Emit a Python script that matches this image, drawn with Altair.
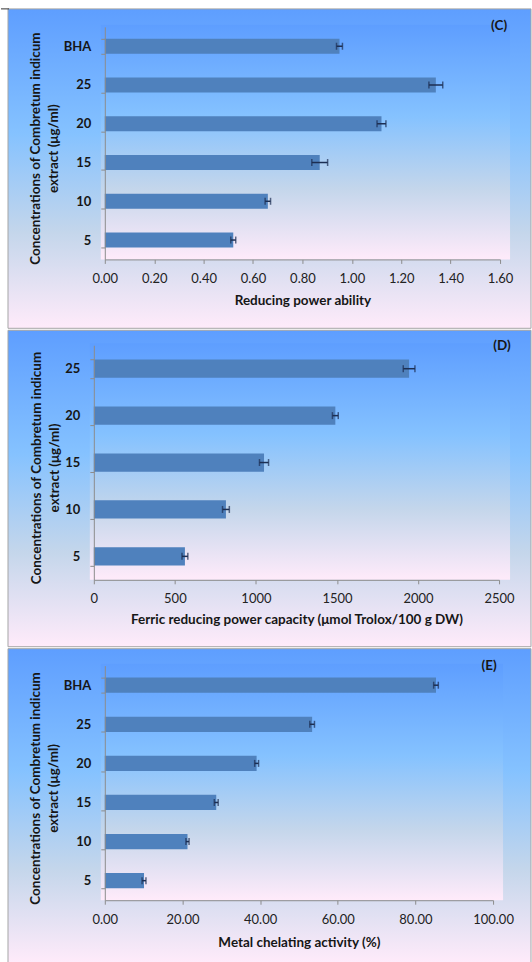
import altair as alt
import pandas as pd

# ---------------- data ----------------
y_title = ["Concentrations of Combretum indicum", "extract (μg/ml)"]

c_categories = ["BHA", "25", "20", "15", "10", "5"]
c_values = [0.95, 1.34, 1.12, 0.87, 0.66, 0.52]
c_errors = [0.012, 0.028, 0.018, 0.032, 0.011, 0.010]
c_ticks = [0.0, 0.2, 0.4, 0.6, 0.8, 1.0, 1.2, 1.4, 1.6]
c_xtitle = "Reducing power ability"

d_categories = ["25", "20", "15", "10", "5"]
d_values = [1945, 1490, 1050, 815, 562]
d_errors = [36, 18, 28, 21, 18]
d_ticks = [0, 500, 1000, 1500, 2000, 2500]
d_xtitle = "Ferric reducing power capacity (μmol Trolox/100 g DW)"

e_categories = ["BHA", "25", "20", "15", "10", "5"]
e_values = [85.3, 53.4, 39.1, 28.7, 21.3, 10.1]
e_errors = [0.6, 0.6, 0.5, 0.5, 0.4, 0.5]
e_ticks = [0, 20, 40, 60, 80, 100]
e_xtitle = "Metal chelating activity (%)"

# ---------------- style ----------------
FONT = "Lato"
TEXT = "#161616"
BAR = "#4f81bd"
ERR = "#1c2e52"
AXIS = "#8c8c8c"


def daybreak():
    return alt.Gradient(
        gradient="linear", x1=0, x2=0, y1=0, y2=1,
        stops=[
            alt.GradientStop(offset=0, color="#5e9eff"),
            alt.GradientStop(offset=0.39, color="#85c2ff"),
            alt.GradientStop(offset=0.70, color="#c4d6eb"),
            alt.GradientStop(offset=1, color="#ffebfa"),
        ],
    )


def panel(cats, vals, errs, ticks, fmt, xtitle, label, height, x_range,
          x_max, axis_off, plot_bg_x, panel_y, label_xy, title_pad, corner=False):
    df = pd.DataFrame({
        "cat": cats,
        "val": vals,
        "lo": [v - e for v, e in zip(vals, errs)],
        "hi": [v + e for v, e in zip(vals, errs)],
    })
    xscale = alt.Scale(domain=[0, x_max], range=x_range, nice=False, zero=True)
    yscale = alt.Scale(paddingInner=0.61, paddingOuter=0.305)
    xaxis = alt.Axis(values=ticks, format=fmt, title=xtitle, grid=False,
                     zindex=1, tickSize=4, labelPadding=9, titlePadding=title_pad,
                     labelFontSize=13, labelColor="#222222", labelFont=FONT,
                     titleFont=FONT, titleFontSize=13.5, titleFontWeight="bold",
                     titleColor=TEXT, domainColor=AXIS, tickColor=AXIS,
                     labelFlush=False)
    yaxis = alt.Axis(title=y_title, grid=False, zindex=1, offset=axis_off,
                     tickBand="extent", tickSize=4, labelPadding=10,
                     labelFontSize=13, labelFontWeight="bold", labelColor=TEXT,
                     labelFont=FONT, titleFont=FONT, titleFontSize=13.5,
                     titleFontWeight="bold", titleColor=TEXT, titlePadding=3,
                     titleLineHeight=18, titleY=height / 2 + 5,
                     domainColor=AXIS, tickColor=AXIS)

    one = alt.Data(values=[{}])
    bg_panel = alt.Chart(one).mark_rect(
        fill=daybreak(), stroke="#a6a6a6", strokeWidth=1
    ).encode(x=alt.value(-97), x2=alt.value(427),
             y=alt.value(panel_y[0]), y2=alt.value(panel_y[1]))
    bg_plot = alt.Chart(one).mark_rect(fill=daybreak()).encode(
        x=alt.value(plot_bg_x[0]), x2=alt.value(plot_bg_x[1]),
        y=alt.value(-2), y2=alt.value(height))

    base = alt.Chart(df)
    y = alt.Y("cat:N", sort=cats, scale=yscale, axis=yaxis)
    bars = base.mark_bar(color=BAR).encode(
        x=alt.X("val:Q", scale=xscale, axis=xaxis), y=y)
    rule = base.mark_rule(color=ERR, strokeWidth=1.5).encode(
        x="lo:Q", x2="hi:Q", y=y)
    tick_lo = base.mark_tick(color=ERR, size=7, thickness=1.5).encode(
        x="lo:Q", y=y)
    tick_hi = base.mark_tick(color=ERR, size=7, thickness=1.5).encode(
        x="hi:Q", y=y)
    lab = alt.Chart(alt.Data(values=[{"t": label}])).mark_text(
        font=FONT, fontSize=13.5, fontWeight="bold", color=TEXT,
        align="center", baseline="middle"
    ).encode(x=alt.value(label_xy[0]), y=alt.value(label_xy[1]), text="t:N")

    layers = [bg_panel, bg_plot, bars, rule, tick_lo, tick_hi, lab]
    if corner:
        line = alt.Chart(one).mark_rule(color="#333333", strokeWidth=1).encode(
            x=alt.value(-104), x2=alt.value(-96), y=alt.value(-18))
        layers.append(line)
    return alt.layer(*layers).properties(width=396, height=height)


c_chart = panel(c_categories, c_values, c_errors, c_ticks, ".2f", c_xtitle,
                "(C)", 233, [0, 396], 1.6, 0, [-4, 406], [-18, 302],
                [395, -1], 8, corner=True)
d_chart = panel(d_categories, d_values, d_errors, d_ticks, "d", d_xtitle,
                "(D)", 235, [-11, 395], 2500, 11, [-15, 406], [-15, 302],
                [398, 1], 7)
e_chart = panel(e_categories, e_values, e_errors, e_ticks, ".2f", e_xtitle,
                "(E)", 235, [0, 389], 100, 0, [-4, 399], [-17, 298],
                [385, 0], 9)

chart = alt.vconcat(c_chart, d_chart, e_chart, spacing=0).properties(
    padding={"left": 0, "top": 7, "right": 0, "bottom": 0},
    background="white",
).configure_view(stroke=None)

chart.save("out.html", embed_options={"renderer": "svg", "actions": False})
